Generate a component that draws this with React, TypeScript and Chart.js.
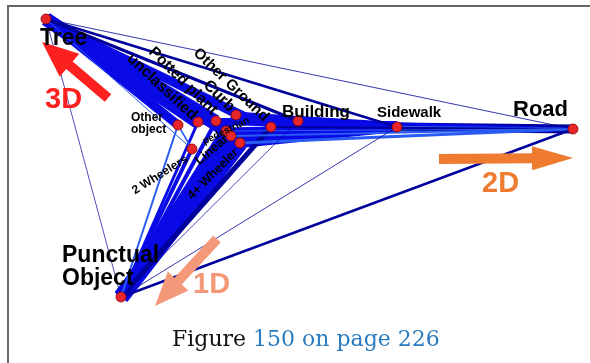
import React, { useEffect, useRef } from "react";
import { Chart, registerables } from "chart.js";
Chart.register(...registerables);

// ---- data ----
const nodeNames = ["Tree", "Road", "Punctual Object", "Sidewalk", "Building", "Other Ground", "Curb", "Potted plant", "unclassified", "Other object", "pedestrian", "Linear", "4+ Wheeler", "2 Wheelers"];
const nodeX = [46, 573, 121, 397, 298, 271, 236, 216, 198, 178, 226, 231, 240, 192];
const nodeY = [19, 129, 297, 127, 121, 127, 115, 121, 122, 125, 131, 136, 143, 149];

// edges: [from, to, weight, tone]  tone: 0 blue, 1 navy, 2 light blue
const edges: [string, string, number, number][] = [
  ["Tree", "unclassified", 14, 0],
  ["Tree", "Other object", 9, 0],
  ["Tree", "Potted plant", 12, 0],
  ["Tree", "pedestrian", 11, 0],
  ["Tree", "Linear", 9, 0],
  ["Tree", "Curb", 7, 0],
  ["Tree", "4+ Wheeler", 8, 0],
  ["Tree", "Other Ground", 5, 0],
  ["Tree", "Building", 3, 1],
  ["Tree", "Sidewalk", 2.5, 1],
  ["Tree", "Road", 0.8, 1],
  ["Tree", "Punctual Object", 0.7, 1],
  ["Tree", "2 Wheelers", 1, 2],
  ["Building", "Sidewalk", 10, 0],
  ["Other Ground", "Sidewalk", 12, 0],
  ["Curb", "Sidewalk", 7, 0],
  ["4+ Wheeler", "Sidewalk", 10, 0],
  ["Linear", "Sidewalk", 8, 0],
  ["pedestrian", "Sidewalk", 7, 0],
  ["unclassified", "Sidewalk", 5, 0],
  ["Potted plant", "Building", 6, 0],
  ["Sidewalk", "Road", 9, 1],
  ["Sidewalk", "Road", 2.5, 2],
  ["4+ Wheeler", "Road", 3, 2],
  ["Linear", "Road", 2, 2],
  ["Other Ground", "Road", 2, 1],
  ["Building", "Road", 3, 0],
  ["pedestrian", "Road", 1, 2],
  ["4+ Wheeler", "Punctual Object", 16, 0],
  ["Linear", "Punctual Object", 14, 0],
  ["pedestrian", "Punctual Object", 11, 0],
  ["2 Wheelers", "Punctual Object", 4, 0],
  ["Other Ground", "Punctual Object", 5, 1],
  ["Curb", "Punctual Object", 7, 0],
  ["unclassified", "Punctual Object", 3, 0],
  ["Potted plant", "Punctual Object", 4, 0],
  ["Other object", "Punctual Object", 2, 2],
  ["Other object", "2 Wheelers", 1.5, 2],
  ["Punctual Object", "Road", 2.5, 1],
  ["Punctual Object", "Sidewalk", 0.8, 1],
  ["Punctual Object", "Building", 0.7, 1],
];

const toneColors = ["#0a0ae6", "#00009c", "#2a5cf4"];

// ---- annotations ----
type Lbl = { t: string; x: number; y: number; a: number; s: number; c?: string; rot?: boolean };
const labels: Lbl[] = [
  { t: "Tree", x: 40, y: 45, a: 0, s: 23 },
  { t: "Road", x: 513, y: 116, a: 0, s: 22 },
  { t: "Building", x: 282, y: 117, a: 0, s: 17 },
  { t: "Sidewalk", x: 377, y: 117, a: 0, s: 15 },
  { t: "Punctual", x: 62, y: 262, a: 0, s: 23 },
  { t: "Object", x: 62, y: 285, a: 0, s: 23 },
  { t: "Other", x: 131, y: 121, a: 0, s: 12 },
  { t: "object", x: 131, y: 133, a: 0, s: 12 },
  { t: "Other Ground", x: 231, y: 85, a: 44, s: 15, rot: true },
  { t: "Potted plant", x: 183, y: 81, a: 44.5, s: 15.5, rot: true },
  { t: "unclassified", x: 162, y: 87, a: 43, s: 15.5, rot: true },
  { t: "Curb", x: 219, y: 96, a: 45, s: 16, rot: true },
  { t: "pedestrian", x: 226, y: 131, a: -26, s: 10, rot: true },
  { t: "Linear", x: 212, y: 150, a: -40, s: 13, rot: true },
  { t: "4+ Wheeler", x: 213, y: 174, a: -45, s: 12.5, rot: true },
  { t: "2 Wheelers", x: 160, y: 175, a: -32, s: 12, rot: true },
  { t: "3D", x: 45, y: 108, a: 0, s: 29, c: "#fe1f1f" },
  { t: "2D", x: 482, y: 192, a: 0, s: 29, c: "#ef7b31" },
  { t: "1D", x: 193, y: 293, a: 0, s: 29, c: "#f4987a" },
];

const arrows = [
  { x1: 108, y1: 98, x2: 42, y2: 42, sw: 10, hl: 36, hw: 15, c: "#fe1f1f" },
  { x1: 439, y1: 159, x2: 573, y2: 158, sw: 10, hl: 41, hw: 12, c: "#ef7b31" },
  { x1: 217, y1: 239, x2: 155, y2: 306, sw: 10, hl: 34, hw: 14, c: "#f4987a" },
];

const captionA = "Figure ";
const captionB = "150 on page 226";

export default function App() {
  const ref = useRef<HTMLCanvasElement | null>(null);
  useEffect(() => {
    if (!ref.current) return;
    const idx = (n: string) => nodeNames.indexOf(n);
    const edgeSets = edges.map(([f, t, w, tone]) => ({
      type: "line" as const,
      data: [
        { x: nodeX[idx(f)], y: nodeY[idx(f)] },
        { x: nodeX[idx(t)], y: nodeY[idx(t)] },
      ],
      showLine: true,
      borderColor: toneColors[tone],
      borderWidth: w,
      borderCapStyle: "butt" as const,
      pointRadius: 0,
      fill: false,
      tension: 0,
      order: w + 1,
      clip: false as any,
    }));
    const nodeSet = {
      type: "scatter" as const,
      data: nodeX.map((x, i) => ({ x, y: nodeY[i] })),
      pointRadius: 5,
      pointBackgroundColor: "#e8262a",
      pointBorderColor: "#8a0000",
      pointBorderWidth: 0.8,
      order: 0,
      clip: false as any,
    };

    const deco = {
      id: "deco",
      beforeDatasetsDraw(chart: any) {
        const ctx = chart.ctx;
        ctx.save();
        ctx.strokeStyle = "#666666";
        ctx.lineWidth = 2;
        ctx.beginPath();
        ctx.moveTo(590, 6);
        ctx.lineTo(8, 6);
        ctx.lineTo(8, 363);
        ctx.stroke();
        ctx.restore();
      },
      afterDatasetsDraw(chart: any) {
        const ctx = chart.ctx;
        const sx = chart.scales.x, sy = chart.scales.y;
        const px = (v: number) => sx.getPixelForValue(v);
        const py = (v: number) => sy.getPixelForValue(v);
        ctx.save();
        for (const a of arrows) {
          const x1 = px(a.x1), y1 = py(a.y1), x2 = px(a.x2), y2 = py(a.y2);
          const dx = x2 - x1, dy = y2 - y1;
          const L = Math.hypot(dx, dy);
          const ux = dx / L, uy = dy / L;
          const nx = -uy, ny = ux;
          const bx = x2 - ux * a.hl, by = y2 - uy * a.hl;
          ctx.fillStyle = a.c;
          ctx.beginPath();
          ctx.moveTo(x1 + nx * a.sw / 2, y1 + ny * a.sw / 2);
          ctx.lineTo(bx + nx * a.sw / 2, by + ny * a.sw / 2);
          ctx.lineTo(bx + nx * a.hw, by + ny * a.hw);
          ctx.lineTo(x2, y2);
          ctx.lineTo(bx - nx * a.hw, by - ny * a.hw);
          ctx.lineTo(bx - nx * a.sw / 2, by - ny * a.sw / 2);
          ctx.lineTo(x1 - nx * a.sw / 2, y1 - ny * a.sw / 2);
          ctx.closePath();
          ctx.fill();
        }
        for (const l of labels) {
          ctx.save();
          ctx.fillStyle = l.c || "#000000";
          ctx.font = `bold ${l.s}px "Liberation Sans", Arial, sans-serif`;
          ctx.translate(px(l.x), py(l.y));
          if (l.rot) {
            ctx.rotate((l.a * Math.PI) / 180);
            ctx.textAlign = "center";
            ctx.textBaseline = "middle";
          } else {
            ctx.textAlign = "left";
            ctx.textBaseline = "alphabetic";
          }
          ctx.fillText(l.t, 0, 0);
          ctx.restore();
        }
        ctx.font = `22px "DejaVu Serif", serif`;
        ctx.textAlign = "left";
        ctx.textBaseline = "alphabetic";
        ctx.fillStyle = "#111111";
        ctx.fillText(captionA, 172, 346);
        const w = ctx.measureText(captionA).width;
        ctx.fillStyle = "#2a7cc0";
        ctx.fillText(captionB, 172 + w, 346);
        ctx.restore();
      },
    };

    const chart = new Chart(ref.current, {
      type: "scatter",
      data: { datasets: [...edgeSets, nodeSet] as any },
      options: {
        animation: false,
        responsive: false,
        maintainAspectRatio: false,
        layout: { padding: 0, autoPadding: false },
        plugins: { legend: { display: false }, tooltip: { enabled: false } },
        events: [],
        scales: {
          x: { type: "linear", min: 0, max: 590, display: false },
          y: { type: "linear", min: 0, max: 363, reverse: true, display: false },
        },
      },
      plugins: [deco],
    });
    return () => chart.destroy();
  }, []);
  return (
    <div style={{ position: "absolute", left: 0, top: 0, width: 590, height: 363, background: "#fff" }}>
      <canvas ref={ref} width={590} height={363} />
    </div>
  );
}
